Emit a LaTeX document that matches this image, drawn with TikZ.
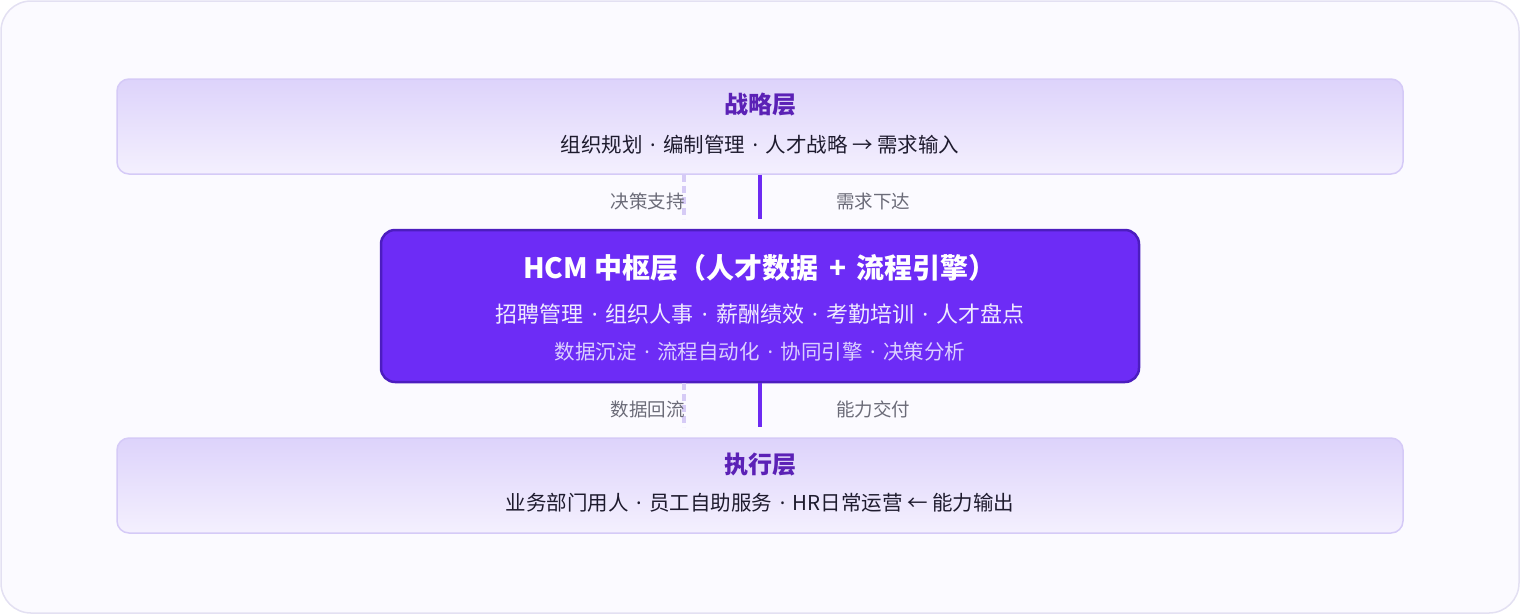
\documentclass[tikz,border=0pt]{standalone}
\usepackage{fontspec}
\setmainfont{Noto Sans CJK SC}
\newfontfamily\latinfont{Noto Sans}
\newcommand\dotsep{\hspace{0.37em}{\latinfont ·}\hspace{0.37em}}
\definecolor{outerfill}{HTML}{FBFAFF}
\definecolor{outerline}{HTML}{E3E0F2}
\definecolor{layertop}{HTML}{DDD3FB}
\definecolor{layerbot}{HTML}{F4F0FE}
\definecolor{layerline}{HTML}{D5CAF7}
\definecolor{titlecol}{HTML}{5B21B6}
\definecolor{subcol}{HTML}{1E1B2E}
\definecolor{graycol}{HTML}{6B6B78}
\definecolor{solidcol}{HTML}{6D2AF2}
\definecolor{dashcol}{HTML}{D6CBF6}
\definecolor{hubfill}{HTML}{6D2CF6}
\definecolor{hubline}{HTML}{4C1DBF}
\definecolor{hubtwo}{HTML}{F0EBFF}
\definecolor{hubthree}{HTML}{DCD0FF}
\begin{document}
\begin{tikzpicture}[x=1pt,y=-1pt,
  layerbox/.style={draw=layerline,line width=1.5pt,rounded corners=12pt,
    top color=layertop,bottom color=layerbot,minimum width=1286pt,minimum height=95pt,inner sep=0pt},
  hubbox/.style={draw=hubline,line width=2.5pt,rounded corners=14pt,fill=hubfill,
    minimum width=758pt,minimum height=152pt,inner sep=0pt},
  layertitle/.style={font=\fontsize{24pt}{26pt}\selectfont\bfseries,text=titlecol,inner sep=0pt},
  layersub/.style={font=\fontsize{20.5pt}{23pt}\selectfont,text=subcol,inner sep=0pt},
  hubtitle/.style={font=\fontsize{28pt}{30pt}\selectfont\bfseries,text=white,inner sep=0pt},
  hubsub/.style={font=\fontsize{22pt}{24pt}\selectfont,text=hubtwo,inner sep=0pt},
  hubsubb/.style={font=\fontsize{20.5pt}{23pt}\selectfont,text=hubthree,inner sep=0pt},
  flowlabel/.style={font=\fontsize{18.5pt}{20pt}\selectfont,text=graycol,inner sep=0pt},
  solidlink/.style={draw=solidcol,line width=3.5pt},
  dashlink/.style={draw=dashcol,line width=3.5pt,dash pattern=on 7pt off 4pt}
]
\useasboundingbox (0,0) rectangle (1520,614);
\draw[fill=outerfill,draw=outerline,line width=1.5pt,rounded corners=30pt] (1,1) rectangle (1519,613);

\node[layerbox] (top) at (760,126.5) {};
\node[layertitle] (toptitle) at (760,105) {战略层};
\node[layersub] (topsub) at (760,145) {组织规划\dotsep 编制管理\dotsep 人才战略 → 需求输入};

\node[hubbox] (hub) at (760,306) {};
\node[hubtitle] (hubtitle) at (760,268) {HCM 中枢层（人才数据\hspace{0.15em} + \hspace{0.15em}流程引擎）};
\node[hubsub] (hubsub) at (760,314) {招聘管理\dotsep 组织人事\dotsep 薪酬绩效\dotsep 考勤培训\dotsep 人才盘点};
\node[hubsubb] (hubsubb) at (760,352) {数据沉淀\dotsep 流程自动化\dotsep 协同引擎\dotsep 决策分析};

\node[layerbox] (bot) at (760,485.5) {};
\node[layertitle] (bottitle) at (760,465) {执行层};
\node[layersub] (botsub) at (760,503) {业务部门用人\dotsep 员工自助服务\dotsep HR日常运营 ← 能力输出};

\coordinate (dx) at (684,0);
\coordinate (sx) at (760,0);

\draw[dashlink] (top.south -| dx) -- ([yshift=10pt]hub.north -| dx);
\draw[solidlink] (top.south -| sx) -- ([yshift=10pt]hub.north -| sx);
\draw[dashlink] (hub.south -| dx) -- ([yshift=10pt]bot.north -| dx);
\draw[solidlink] (hub.south -| sx) -- ([yshift=10pt]bot.north -| sx);

\node[flowlabel,anchor=east] (l1) at (685,201) {决策支持};
\node[flowlabel] (l2) at (873,201) {需求下达};
\node[flowlabel,anchor=east] (l3) at (685,409) {数据回流};
\node[flowlabel] (l4) at (873,409) {能力交付};
\end{tikzpicture}
\end{document}
